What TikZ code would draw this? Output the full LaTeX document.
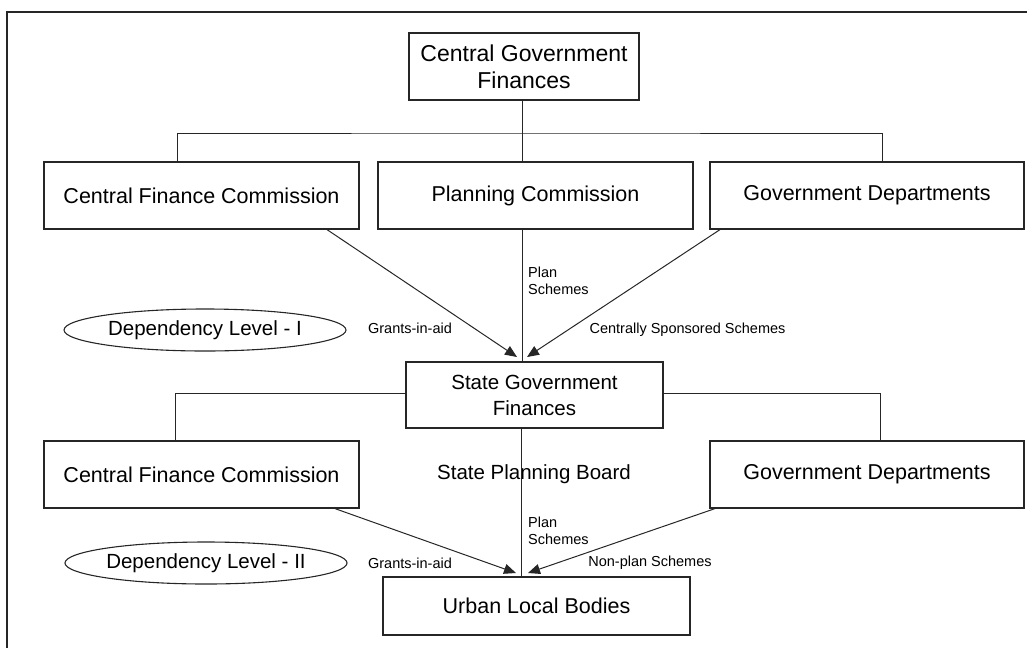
\documentclass[tikz,border=0pt]{standalone}
\usepackage{fontspec}
\setmainfont{Liberation Sans}
\usetikzlibrary{arrows.meta,shapes.geometric}
\begin{document}
\begin{tikzpicture}[x=1pt,y=-1pt,
  box/.style={draw=black!85,line width=1.2pt,inner sep=0pt,align=center},
  oval/.style={ellipse,draw=black!85,line width=1.1pt,inner sep=0pt},
  link/.style={draw=black!85,line width=1pt},
  arr/.style={link,-{Triangle[length=12pt,width=10pt]}},
  big/.style={font=\fontsize{21.5}{25}\selectfont},
  mid/.style={font=\fontsize{20.5}{26}\selectfont},
  topf/.style={font=\fontsize{23}{27}\selectfont},
  small/.style={font=\fontsize{14.5}{17}\selectfont,inner sep=0pt,align=left},
]
\useasboundingbox (0,0) rectangle (1027,648);
% frame
\draw[draw=black!85,line width=1.5pt] (7,648) -- (7,12) -- (1027,12);

% level 0
\node[box,topf,minimum width=230pt,minimum height=67pt] (top) at (524,66.5) {Central Government\\Finances};
% level 1 boxes
\node[box,big,minimum width=315pt,minimum height=67pt] (cfc1) at (201.5,195.5) {Central Finance Commission};
\node[box,big,minimum width=315pt,minimum height=67pt] (pc) at (535.5,195.5) {Planning Commission};
\node[box,big,minimum width=314pt,minimum height=67pt] (gd1) at (867,195.5) {Government Departments};
% state
\node[box,mid,minimum width=257pt,minimum height=66pt] (sgf) at (534.5,395) {State Government\\Finances};
% level 2 boxes
\node[box,big,minimum width=315pt,minimum height=67pt] (cfc2) at (201.5,474.5) {Central Finance Commission};
\node[mid] (spb) at (534,474) {State Planning Board};
\node[box,big,minimum width=314pt,minimum height=67pt] (gd2) at (867,474.5) {Government Departments};
% ulb
\node[box,big,minimum width=307pt,minimum height=58pt] (ulb) at (536.5,606) {Urban Local Bodies};

% ellipses
\node[oval,mid,minimum width=282pt,minimum height=42pt] (dl1) at (205,330) {Dependency Level - I};
\node[oval,mid,minimum width=282pt,minimum height=42pt] (dl2) at (206,563) {Dependency Level - II};

% bus level 1
\coordinate (bus1) at (522,133);
\draw[link] (bus1 |- top.south) -- (bus1);
\draw[link] ([xshift=-24.5pt]cfc1.north) |- (bus1) -| ([xshift=15pt]gd1.north);
\draw[link] (bus1) -- (bus1 |- pc.north);

% bus level 2
\draw[link] ([yshift=2pt]sgf.west) -| ([xshift=-26.5pt]cfc2.north);
\draw[link] ([yshift=2pt]sgf.east) -| ([xshift=13pt]gd2.north);

% arrows level I
\coordinate (t1l) at (517,357);
\coordinate (t1r) at (527,357);
\draw[arr] ([xshift=125.5pt]cfc1.south) -- (t1l);
\draw[arr] ([xshift=-147pt]gd1.south) -- (t1r);
\draw[link] ([xshift=-13.5pt]pc.south) -- ([xshift=-13.5pt]pc.south |- sgf.north);

% arrows level II
\coordinate (t2l) at (516,573);
\coordinate (t2r) at (528,573);
\draw[arr] ([xshift=133.5pt]cfc2.south) -- (t2l);
\draw[arr] ([xshift=-152pt]gd2.south) -- (t2r);
\draw[link] ([xshift=-13.5pt]sgf.south) -- ([xshift=-13.5pt]sgf.south |- ulb.north);

% labels
\node[small] (g1) at (410,328) {Grants-in-aid};
\node[small] (c1) at (687.5,330) {Centrally Sponsored Schemes};
\node[small,anchor=west] (p1) at (528,280.5) {Plan\\Schemes};
\node[small] (g2) at (410,563) {Grants-in-aid};
\node[small] (n2) at (650,563) {Non-plan Schemes};
\node[small,anchor=west] (p2) at (528,531) {Plan\\Schemes};
\end{tikzpicture}
\end{document}
